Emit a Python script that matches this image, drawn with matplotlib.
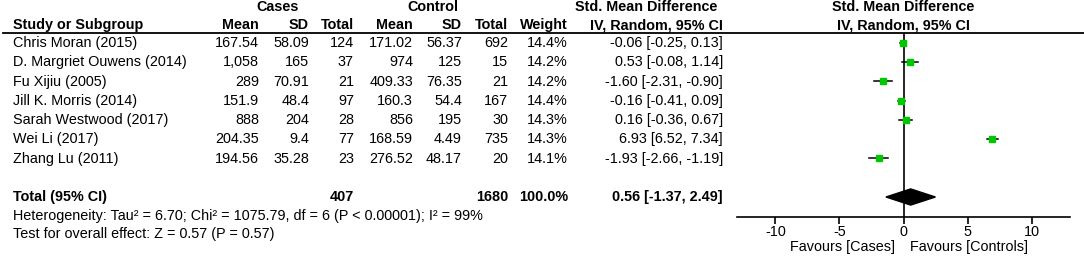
import matplotlib
matplotlib.use("Agg")
import matplotlib.pyplot as plt

plt.rcParams['font.family'] = ['Liberation Sans', 'DejaVu Sans']
plt.rcParams['axes.unicode_minus'] = False

# study data
studies = ["Chris Moran (2015)", "D. Margriet Ouwens (2014)", "Fu Xijiu (2005)",
           "Jill K. Morris (2014)", "Sarah Westwood (2017)", "Wei Li (2017)",
           "Zhang Lu (2011)"]
case_mean = ["167.54", "1,058", "289", "151.9", "888", "204.35", "194.56"]
case_sd = ["58.09", "165", "70.91", "48.4", "204", "9.4", "35.28"]
case_n = [124, 37, 21, 97, 28, 77, 23]
ctrl_mean = ["171.02", "974", "409.33", "160.3", "856", "168.59", "276.52"]
ctrl_sd = ["56.37", "125", "76.35", "54.4", "195", "4.49", "48.17"]
ctrl_n = [692, 15, 21, 167, 30, 735, 20]
weight = [14.4, 14.2, 14.2, 14.4, 14.3, 14.3, 14.1]
smd = [-0.06, 0.53, -1.60, -0.16, 0.16, 6.93, -1.93]
ci_lo = [-0.25, -0.08, -2.31, -0.41, -0.36, 6.52, -2.66]
ci_hi = [0.13, 1.14, -0.90, 0.09, 0.67, 7.34, -1.19]

# pooled result
total_cases = 407
total_ctrl = 1680
total_est = 0.56
total_lo = -1.37
total_hi = 2.49
heterogeneity = "Heterogeneity: Tau\u00b2 = 6.70; Chi\u00b2 = 1075.79, df = 6 (P < 0.00001); I\u00b2 = 99%"
overall = "Test for overall effect: Z = 0.57 (P = 0.57)"

W, H = 1084, 257
row0, step = 43, 19.25


def r(py):
    # pixel y -> row units
    return (py - row0) / step


fig = plt.figure(figsize=(W / 100, H / 100), dpi=100)
ax = fig.add_axes([0, 0, 1, 1])
ax.set_xlim(0, W)
ax.set_ylim(r(H), r(0))
ax.axis('off')

fs = 10.4
green = '#00c800'

# headers
ax.text(278, r(7), "Cases", ha='center', va='center', fontsize=fs, weight='bold')
ax.text(433, r(7), "Control", ha='center', va='center', fontsize=fs, weight='bold')
ax.text(646, r(7), "Std. Mean Difference", ha='center', va='center', fontsize=fs, weight='bold')
ax.text(903, r(7), "Std. Mean Difference", ha='center', va='center', fontsize=fs, weight='bold')
ax.text(13, r(25), "Study or Subgroup", ha='left', va='center', fontsize=fs, weight='bold')
cols = [(259, "Mean"), (309, "SD"), (354, "Total"), (413, "Mean"), (462, "SD"),
        (508, "Total"), (568, "Weight"), (723, "IV, Random, 95% CI")]
for x, lab in cols:
    ax.text(x, r(25), lab, ha='right', va='center', fontsize=fs, weight='bold')
ax.text(903, r(25), "IV, Random, 95% CI", ha='center', va='center', fontsize=fs, weight='bold')
ax.plot([3, W], [r(33), r(33)], color='black', lw=1.3)

# study rows
for i, name in enumerate(studies):
    vals = [case_mean[i], case_sd[i], str(case_n[i]), ctrl_mean[i], ctrl_sd[i],
            str(ctrl_n[i]), "%.1f%%" % weight[i],
            "%.2f [%.2f, %.2f]" % (smd[i], ci_lo[i], ci_hi[i])]
    ax.text(13, i, name, ha='left', va='center', fontsize=fs)
    for (x, _), v in zip(cols, vals):
        ax.text(x, i, v, ha='right', va='center', fontsize=fs)

# total row
tr = len(studies) + 1
ax.text(13, tr, "Total (95% CI)", ha='left', va='center', fontsize=fs, weight='bold')
ax.text(354, tr, str(total_cases), ha='right', va='center', fontsize=fs, weight='bold')
ax.text(508, tr, str(total_ctrl), ha='right', va='center', fontsize=fs, weight='bold')
ax.text(568, tr, "100.0%", ha='right', va='center', fontsize=fs, weight='bold')
ax.text(723, tr, "%.2f [%.2f, %.2f]" % (total_est, total_lo, total_hi),
        ha='right', va='center', fontsize=fs, weight='bold')
ax.text(13, r(216), heterogeneity, ha='left', va='center', fontsize=fs)
ax.text(13, r(234), overall, ha='left', va='center', fontsize=fs)

# forest panel
fa = fig.add_axes([737 / W, (H - 217) / H, 333 / W, (217 - 33) / H])
fa.set_xlim(-13, 13)
fa.set_ylim(r(217), r(33))
fa.patch.set_alpha(0)
for s in ['top', 'right', 'left']:
    fa.spines[s].set_visible(False)
fa.spines['bottom'].set_linewidth(1.2)
fa.set_yticks([])
fa.set_xticks([-10, -5, 0, 5, 10])
fa.tick_params(axis='x', length=5, width=1.2, labelsize=fs, pad=1)
fa.axvline(0, color='black', lw=1.2)

for i in range(len(studies)):
    fa.plot([ci_lo[i], ci_hi[i]], [i, i], color='black', lw=1.1)
    fa.plot(smd[i], i, marker='s', color=green, markersize=4.5, mec=green)

dh = 0.42
fa.fill([total_lo, total_est, total_hi, total_est], [tr, tr - dh, tr, tr + dh],
        color='black')

ax.text(895, r(247), "Favours [Cases]", ha='right', va='center', fontsize=fs)
ax.text(910, r(247), "Favours [Controls]", ha='left', va='center', fontsize=fs)

fig.savefig("out.png", dpi=100)
